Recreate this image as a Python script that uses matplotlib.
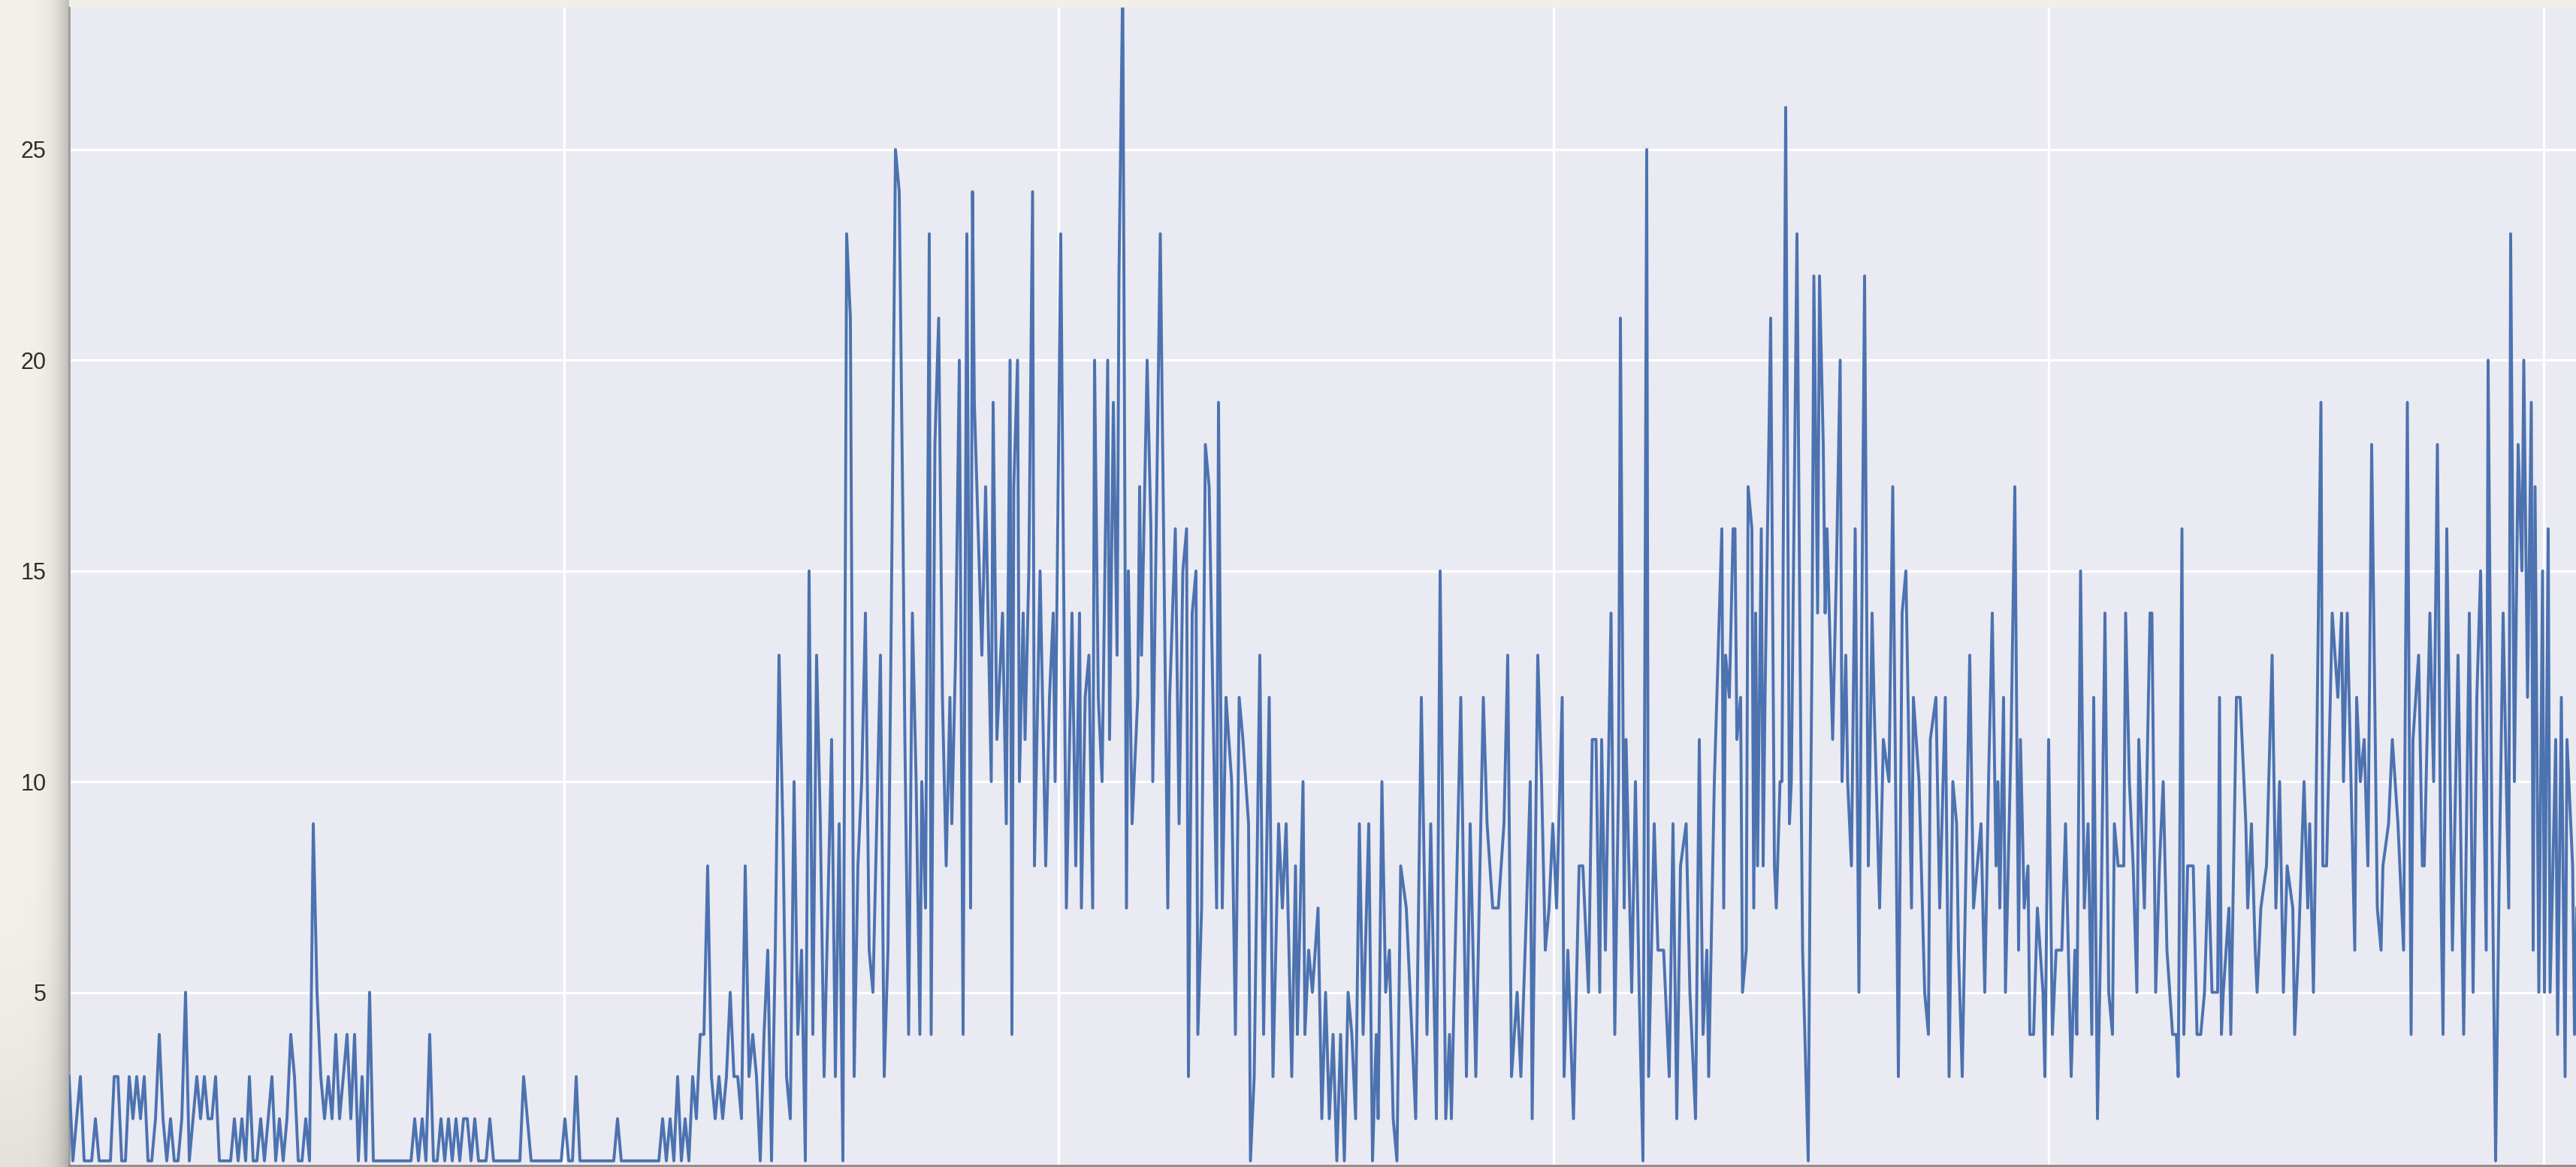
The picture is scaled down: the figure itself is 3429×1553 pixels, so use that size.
import numpy as np
import matplotlib
matplotlib.use("Agg")
import matplotlib.pyplot as plt

# ---------------- data ----------------
# first stretch: one reading every 2 days
day_a = list(range(0, 443, 2))
count_a = [
    3, 1, 2, 3, 1, 1, 1, 2, 1, 1,
    1, 1, 3, 3, 1, 1, 3, 2, 3, 2,
    3, 1, 1, 2, 4, 2, 1, 2, 1, 1,
    2, 5, 1, 2, 3, 2, 3, 2, 2, 3,
    1, 1, 1, 1, 2, 1, 2, 1, 3, 1,
    1, 2, 1, 2, 3, 1, 2, 1, 2, 4,
    3, 1, 1, 2, 1, 9, 5, 3, 2, 3,
    2, 4, 2, 3, 4, 2, 4, 1, 3, 1,
    5, 1, 1, 1, 1, 1, 1, 1, 1, 1,
    1, 1, 2, 1, 2, 1, 4, 1, 1, 2,
    1, 2, 1, 2, 1, 2, 2, 1, 2, 1,
    1, 1, 2, 1, 1, 1, 1, 1, 1, 1,
    1, 3, 2, 1, 1, 1, 1, 1, 1, 1,
    1, 1, 2, 1, 1, 3, 1, 1, 1, 1,
    1, 1, 1, 1, 1, 1, 2, 1, 1, 1,
    1, 1, 1, 1, 1, 1, 1, 1, 2, 1,
    2, 1, 3, 1, 2, 1, 3, 2, 4, 4,
    8, 3, 2, 3, 2, 3, 5, 3, 3, 2,
    8, 3, 4, 3, 1, 4, 6, 1, 6, 13,
    9, 3, 2, 10, 4, 6, 1, 15, 4, 13,
    9, 3, 7, 11, 3, 9, 1, 23, 21, 3,
    8, 10, 14, 6, 5, 9, 13, 3, 6, 15,
    25, 24,
]

day_b = [
    444, 445, 447, 449, 451, 453, 454, 456, 458, 459,
    461, 463, 465, 467, 469, 470, 472, 474, 476, 478,
    480, 481, 482, 486, 488, 491, 492, 494, 497, 499,
    501, 502, 503, 505, 506, 508, 509, 511, 513, 514,
    517, 520, 522, 524, 525, 528, 531, 534, 536, 538,
    539, 541, 543, 545, 546, 548, 550, 553, 554, 556,
    558, 559, 561, 563, 564, 566, 569, 570, 571, 574,
    576, 577, 581, 585, 586, 589, 591, 593, 595, 596,
    598, 600, 601, 603, 605, 607, 609, 611, 612, 614,
    616, 619, 621, 623, 625, 628, 629, 631, 634, 636,
    639, 641, 644, 646, 648, 651, 653, 654, 657, 658,
]
count_b = [
    16, 11, 4, 14, 10, 4, 10, 7, 23, 4,
    18, 21, 12, 8, 12, 9, 13, 20, 4, 23,
    7, 24, 19, 13, 17, 10, 19, 11, 14, 9,
    20, 4, 17, 20, 10, 14, 11, 15, 24, 8,
    15, 8, 12, 14, 10, 23, 7, 14, 8, 14,
    7, 12, 13, 7, 20, 12, 10, 20, 11, 19,
    13, 22, 29, 7, 15, 9, 12, 17, 13, 20,
    16, 10, 23, 7, 12, 16, 9, 15, 16, 3,
    14, 15, 4, 7, 18, 17, 12, 7, 19, 7,
    12, 10, 4, 12, 11, 9, 1, 3, 13, 4,
    12, 3, 9, 7, 9, 3, 8, 4, 10, 4,
]

day_c = [
    660, 662, 665, 667, 669, 671, 673, 675, 677, 679,
    681, 683, 685, 687, 689, 692, 694, 696, 697, 699,
    701, 703, 705, 707, 709, 712, 714, 717, 720, 723,
    725, 728, 730, 733, 735, 736, 739, 741, 744, 746,
    749, 753, 755, 758, 761, 764, 766, 768, 771, 773,
    776, 778, 779, 782, 784, 786, 788, 790, 792, 795,
    796, 798, 801, 804, 806, 809, 811, 813, 815, 816,
    818, 821, 823, 825, 826, 828, 829, 832, 834, 836,
    838, 840, 841, 844, 846, 849, 852, 854, 856, 858,
    861, 863, 866, 868, 870, 872, 873, 876,
]
count_c = [
    6, 5, 7, 2, 5, 2, 4, 1, 4, 1,
    5, 4, 2, 9, 4, 9, 1, 4, 2, 10,
    5, 6, 2, 1, 8, 7, 5, 2, 12, 4,
    9, 2, 15, 2, 4, 2, 8, 12, 3, 9,
    3, 12, 9, 7, 7, 9, 13, 3, 5, 3,
    7, 10, 2, 13, 10, 6, 7, 9, 7, 12,
    3, 6, 2, 8, 8, 5, 11, 11, 5, 11,
    6, 14, 4, 10, 21, 7, 11, 5, 10, 5,
    1, 25, 3, 9, 6, 6, 3, 9, 2, 8,
    9, 5, 2, 11, 4, 6, 3, 10,
]

day_d = [
    880, 881, 882, 884, 886, 887, 888, 890, 891, 893,
    894, 896, 897, 898, 899, 901, 902, 903, 906, 908,
    909, 911, 912, 914, 916, 917, 920, 922, 923, 926,
    927, 928, 929, 931, 932, 934, 935, 936, 939, 941,
    943, 944, 946, 947, 949, 951, 953, 954, 956, 958,
    960, 961, 964, 966, 969, 971, 974, 976, 978, 981,
    982, 985, 988, 990, 991, 994, 996, 999, 1001, 1003,
    1005, 1006, 1008, 1012, 1014, 1016, 1018, 1020, 1022, 1024,
    1026, 1027, 1028, 1030, 1031, 1034, 1036, 1038, 1039, 1041,
    1043, 1044, 1046, 1048, 1051, 1052, 1054, 1056, 1058, 1061,
    1063, 1065, 1066, 1068, 1069, 1071, 1073, 1075, 1077, 1078,
    1080, 1082, 1084, 1086, 1088, 1089, 1091, 1094, 1095, 1097,
    1099, 1101, 1102,
]
count_d = [
    16, 7, 13, 12, 16, 16, 11, 12, 5, 6,
    17, 16, 7, 14, 8, 16, 8, 12, 21, 8,
    7, 10, 10, 26, 9, 10, 23, 11, 6, 1,
    8, 13, 22, 14, 22, 18, 14, 16, 11, 15,
    20, 10, 13, 10, 8, 16, 5, 11, 22, 8,
    14, 12, 7, 11, 10, 17, 3, 14, 15, 7,
    12, 10, 5, 4, 11, 12, 7, 12, 3, 10,
    9, 6, 3, 13, 7, 8, 9, 5, 10, 14,
    8, 10, 7, 12, 5, 11, 17, 6, 11, 7,
    8, 4, 4, 7, 5, 3, 11, 4, 6, 6,
    9, 5, 3, 6, 4, 15, 7, 9, 4, 12,
    2, 7, 14, 5, 4, 9, 8, 8, 14, 10,
    8, 5, 11,
]

day_e = [
    1105, 1108, 1109, 1111, 1113, 1115, 1117, 1120, 1122, 1123,
    1125, 1126, 1128, 1131, 1133, 1135, 1137, 1139, 1141, 1144,
    1145, 1146, 1147, 1150, 1151, 1154, 1156, 1159, 1160, 1162,
    1164, 1165, 1167, 1170, 1173, 1175, 1177, 1179, 1181, 1184,
    1185, 1187, 1190, 1192, 1193, 1195, 1196, 1199, 1200, 1202,
    1205, 1208, 1210, 1211, 1213, 1214, 1217, 1218, 1220, 1222,
    1224, 1226, 1229, 1231, 1232, 1235, 1237, 1240, 1243, 1245,
    1247, 1248, 1251, 1253, 1254, 1257, 1259, 1261, 1263, 1264,
    1266, 1269, 1272, 1275, 1278, 1280, 1282, 1284, 1287, 1288,
    1290, 1292, 1294, 1296, 1299, 1300, 1302, 1304, 1306, 1307,
    1309, 1311, 1312, 1313, 1315, 1317, 1318, 1320, 1321, 1324,
    1325, 1327, 1329, 1330, 1333, 1334, 1336,
]
count_e = [
    7, 14, 14, 5, 8, 10, 6, 4, 4, 3,
    16, 4, 8, 8, 4, 4, 5, 8, 5, 5,
    12, 4, 5, 7, 4, 12, 12, 9, 7, 9,
    6, 5, 7, 8, 13, 7, 10, 5, 8, 7,
    4, 6, 10, 7, 9, 5, 8, 19, 8, 8,
    14, 12, 14, 10, 14, 12, 6, 12, 10, 11,
    8, 18, 7, 6, 8, 9, 11, 9, 6, 19,
    4, 11, 13, 8, 8, 14, 10, 18, 7, 4,
    16, 6, 13, 4, 14, 5, 12, 15, 6, 20,
    9, 1, 8, 14, 7, 23, 10, 18, 15, 20,
    12, 19, 6, 17, 5, 15, 5, 16, 5, 11,
    4, 12, 3, 11, 8, 4, 9,
]

y_ticks = [5, 10, 15, 20, 25]

days = day_a + day_b + day_c + day_d + day_e
counts = count_a + count_b + count_c + count_d + count_e
n = min(len(days), len(counts))
days, counts = days[:n], counts[:n]

# ---------------- figure ----------------
W, H = 3430, 1553
fig = plt.figure(figsize=(W / 100, H / 100), dpi=100)
fig.patch.set_facecolor("#f2efe8")

# paper shadow left of the plot
left_px = 92
sh = fig.add_axes([0, 0, left_px / W, 1], zorder=0)
grad = np.linspace(0, 1, 200)
shade = grad ** 5
base = np.array([0.955, 0.945, 0.918])
dark = np.array([0.74, 0.73, 0.71])
row = base[None, :] * (1 - shade[:, None]) + dark[None, :] * shade[:, None]
vert = np.linspace(0, 1, 100)
vshade = np.clip((vert - 0.7) / 0.3, 0, 1) ** 2 * 0.06
img = row[None, :, :] - vshade[:, None, None]
sh.imshow(np.clip(img, 0, 1), aspect="auto", extent=[0, 1, 0, 1], origin="upper")
sh.set_axis_off()

ax = fig.add_axes([left_px / W, 2 / H, (W - left_px) / W, (1551 - 10) / H], zorder=2)
ax.set_facecolor("#EAEAF2")
ax.plot(days, counts, color="#4C72B0", lw=2.8, zorder=3)

ax.set_xlim(0, 1335.2)
ax.set_ylim(0.89, 28.37)
ax.set_xticks(np.arange(0, 1336, 263.5))
ax.set_xticklabels([])
ax.set_yticks(y_ticks)
ax.set_yticklabels([str(v) for v in y_ticks], fontsize=22, color="#2e2e2e",
                   family=["Liberation Sans", "DejaVu Sans"])
ax.tick_params(axis="both", length=0, pad=22)
ax.grid(True, color="white", lw=2.3, zorder=1)
ax.set_axisbelow(True)
for s in ["top", "right"]:
    ax.spines[s].set_visible(False)
ax.spines["left"].set_color("#9a9a9a")
ax.spines["left"].set_linewidth(2.0)
ax.spines["bottom"].set_color("#8a8a8a")
ax.spines["bottom"].set_linewidth(2.0)

fig.savefig("out.png", dpi=100, facecolor=fig.get_facecolor())
